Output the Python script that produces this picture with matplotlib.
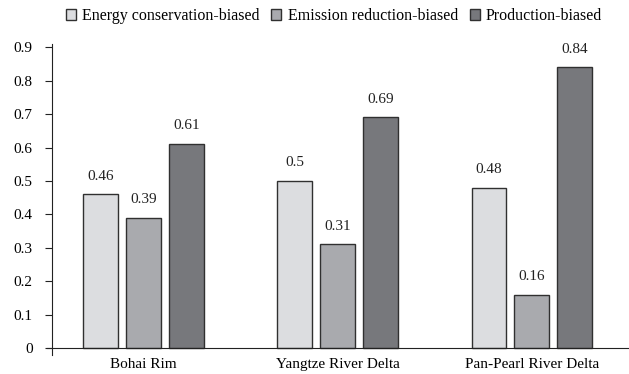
import matplotlib.pyplot as plt
import numpy as np

regions = ["Bohai Rim", "Yangtze River Delta", "Pan-Pearl River Delta"]
series_names = ["Energy conservation-biased", "Emission reduction-biased", "Production-biased"]
energy = [0.46, 0.5, 0.48]
emission = [0.39, 0.31, 0.16]
production = [0.61, 0.69, 0.84]
yticks = [0, 0.1, 0.2, 0.3, 0.4, 0.5, 0.6, 0.7, 0.8, 0.9]

plt.rcParams['font.family'] = ['Liberation Serif', 'DejaVu Serif']
plt.rcParams['font.size'] = 11

colors = ["#dcdde0", "#a9aaae", "#77787c"]

fig = plt.figure(figsize=(6.29, 3.74), dpi=100)
ax = fig.add_axes([0.0827, 0.0508, 0.9173, 0.8316])

x = np.arange(len(regions))
w = 0.18
off = 0.221
for i, (vals, name) in enumerate(zip([energy, emission, production], series_names)):
    bars = ax.bar(x + (i - 1) * off, vals, w, color=colors[i], edgecolor="#303030",
                  linewidth=1, label=name)
    for b, v in zip(bars, vals):
        ax.annotate(f"{v:g}", (b.get_x() + b.get_width() / 2, v), xytext=(0, 8.5),
                    textcoords="offset points", ha="center", va="bottom", color="#222222")

ax.set_xlim(-0.471, 2.5)
ax.set_ylim(-0.021, 0.91)
ax.set_yticks(yticks)
ax.set_yticklabels([f"{t:g}" for t in yticks])
ax.set_xticks(x)
ax.set_xticklabels(regions)
ax.tick_params(axis='x', length=0, pad=7)
ax.tick_params(axis='y', length=5, direction='out', pad=9, color="#222222")
ax.spines['top'].set_visible(False)
ax.spines['right'].set_visible(False)
ax.spines['bottom'].set_position(('data', 0))
ax.spines['bottom'].set_bounds(-0.497, 2.5)
for s in ['left', 'bottom']:
    ax.spines[s].set_color("#222222")

ax.legend(loc="center", bbox_to_anchor=(334 / 629, 1 - 16 / 374),
          bbox_transform=fig.transFigure, ncol=3, frameon=False, fontsize=11.5,
          handlelength=0.63, handleheight=0.63, handletextpad=0.38, columnspacing=0.75,
          borderaxespad=0, borderpad=0)

fig.savefig("out.png", dpi=100)
